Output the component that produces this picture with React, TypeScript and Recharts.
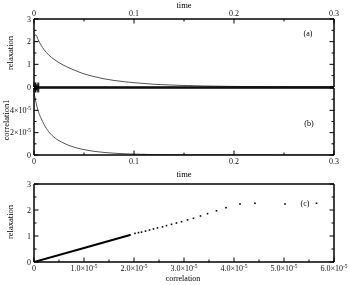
import React from "react"
import { ComposedChart, Line, Scatter, XAxis, YAxis } from "recharts"

// time samples shared by panels (a) and (b)
const time = [0, 0.002, 0.004, 0.007, 0.01, 0.015, 0.02, 0.03, 0.04, 0.05, 0.06, 0.07, 0.08, 0.1, 0.12, 0.14, 0.17, 0.2, 0.25, 0.3]
const relaxation = [2.25, 2.3, 2.1, 1.85, 1.65, 1.4, 1.22, 0.95, 0.75, 0.58, 0.46, 0.36, 0.29, 0.19, 0.12, 0.08, 0.045, 0.025, 0.01, 0.005]
const correlation1 = [5.6e-5, 4.7e-5, 4.0e-5, 3.3e-5, 2.75e-5, 2.05e-5, 1.6e-5, 1.05e-5, 0.7e-5, 0.48e-5, 0.33e-5, 0.23e-5, 0.16e-5, 0.08e-5, 0.04e-5, 0.02e-5, 0.01e-5, 0.005e-5, 0.002e-5, 0.001e-5]

// panel (c): dense part drawn as a line, sparse early-time points as dots
const denseCorr = [0, 1.0e-5, 1.92e-5]
const denseRelax = [0, 0.54, 1.04]
const dotCorr = [1.92e-5, 2.02e-5, 2.09e-5, 2.15e-5, 2.23e-5, 2.31e-5, 2.39e-5, 2.47e-5, 2.57e-5, 2.65e-5, 2.75e-5, 2.85e-5, 2.95e-5, 3.07e-5, 3.19e-5, 3.33e-5, 3.47e-5, 3.65e-5, 3.84e-5, 4.12e-5, 4.42e-5, 5.02e-5, 5.65e-5]
const dotRelax = [1.04, 1.1, 1.13, 1.15, 1.19, 1.23, 1.27, 1.31, 1.35, 1.4, 1.45, 1.5, 1.55, 1.62, 1.68, 1.77, 1.86, 1.97, 2.09, 2.23, 2.26, 2.23, 2.26]

// ticks
const timeTicks = [0, 0.05, 0.1, 0.15, 0.2, 0.25, 0.3]
const timeMajor = [0, 0.1, 0.2, 0.3]
const timeLabels = ["0", "0.1", "0.2", "0.3"]
const relaxTicks = [0, 0.5, 1, 1.5, 2, 2.5, 3]
const relaxMajor = [0, 1, 2, 3]
const relaxLabels = ["0", "1", "2", "3"]
const corrYTicks = [0, 1e-5, 2e-5, 3e-5, 4e-5, 5e-5, 6e-5]
const corrYMajor = [0, 2e-5, 4e-5, 6e-5]
const corrYLabels = ["0", "2×10^-5", "4×10^-5", ""]
const corrXTicks = [0, 0.5e-5, 1e-5, 1.5e-5, 2e-5, 2.5e-5, 3e-5, 3.5e-5, 4e-5, 4.5e-5, 5e-5, 5.5e-5, 6e-5]
const corrXMajor = [0, 1e-5, 2e-5, 3e-5, 4e-5, 5e-5, 6e-5]
const corrXLabels = ["0", "1.0×10^-5", "2.0×10^-5", "3.0×10^-5", "4.0×10^-5", "5.0×10^-5", "6.0×10^-5"]

const W = 349
const H = 285
const FONT = "'Liberation Serif', 'DejaVu Serif', serif"
const frame = { stroke: "#000", strokeWidth: 1.5 }

type Side = "top" | "bottom" | "left" | "right"

function TickText({ x, y, anchor, label }: { x: number; y: number; anchor: "middle" | "end"; label: string }) {
  const [base, exp] = label.split("^")
  return (
    <text x={x} y={y} textAnchor={anchor} fontFamily={FONT} fontSize={8} fill="#111">
      <tspan>{base}</tspan>
      {exp ? <tspan dy={-3.5} fontSize={5.5}>{exp}</tspan> : null}
    </text>
  )
}

function makeTick(side: Side, majors: number[], labels?: string[]) {
  return (props: any) => {
    const { x, y, payload } = props
    const v = payload.value
    const idx = majors.findIndex((m) => Math.abs(m - v) <= Math.abs(m) * 1e-9 + 1e-15)
    const len = idx >= 0 ? 4.5 : 2.5
    let x2 = x
    let y2 = y
    if (side === "top") y2 = y + len
    if (side === "bottom") y2 = y - len
    if (side === "left") x2 = x + len
    if (side === "right") x2 = x - len
    const label = idx >= 0 && labels ? labels[idx] : ""
    let text = null
    if (label) {
      if (side === "top") text = <TickText x={x} y={y - 3} anchor="middle" label={label} />
      else if (side === "bottom") text = <TickText x={x} y={y + 9} anchor="middle" label={label} />
      else text = <TickText x={x - 3} y={y + 2.8} anchor="end" label={label} />
    }
    return (
      <g>
        <line x1={x} y1={y} x2={x2} y2={y2} stroke="#000" strokeWidth={1} />
        {text}
      </g>
    )
  }
}

const axisCommon = {
  type: "number" as const,
  allowDataOverflow: true,
  interval: 0 as const,
  mirror: true,
  tickLine: false,
  tickSize: 0,
  tickMargin: 0,
  axisLine: frame,
}

const dataA = time.map((t, i) => ({ t, v: relaxation[i] }))
const dataB = time.map((t, i) => ({ t, v: correlation1[i] }))
const denseData = denseCorr.map((c, i) => ({ c, r: denseRelax[i] }))
const dotData = dotCorr.map((c, i) => ({ c, r: dotRelax[i] }))

const Dot = (p: any) => <rect x={p.cx - 0.8} y={p.cy - 0.8} width={1.6} height={1.6} fill="#000" />

const abs: React.CSSProperties = { position: "absolute", left: 0, top: 0, willChange: "transform" }

export default function App() {
  return (
    <div style={{ position: "absolute", left: 0, top: 0, width: W, height: H }}>
      {/* (a) relaxation vs time */}
      <div style={abs}>
        <ComposedChart width={W} height={H} data={dataA} accessibilityLayer={false} margin={{ top: 19, right: 15, bottom: 198, left: 34 }}>
          <XAxis {...axisCommon} xAxisId="top" orientation="top" dataKey="t" domain={[0, 0.3]} ticks={timeTicks} tick={makeTick("top", timeMajor, timeLabels)} />
          <XAxis {...axisCommon} xAxisId="bottom" orientation="bottom" domain={[0, 0.3]} ticks={timeTicks} tick={makeTick("bottom", timeMajor)} />
          <YAxis {...axisCommon} yAxisId="left" orientation="left" domain={[0, 3]} ticks={relaxTicks} tick={makeTick("left", relaxMajor, relaxLabels)} />
          <YAxis {...axisCommon} yAxisId="right" orientation="right" domain={[0, 3]} ticks={relaxTicks} tick={makeTick("right", relaxMajor)} />
          <Line xAxisId="top" yAxisId="left" dataKey="v" type="monotone" stroke="#555" strokeWidth={1} dot={false} isAnimationActive={false} />
        </ComposedChart>
      </div>

      {/* (b) correlation1 vs time */}
      <div style={abs}>
        <ComposedChart width={W} height={H} data={dataB} accessibilityLayer={false} margin={{ top: 88, right: 15, bottom: 130, left: 34 }}>
          <XAxis {...axisCommon} xAxisId="bottom" orientation="bottom" dataKey="t" domain={[0, 0.3]} ticks={timeTicks} tick={makeTick("bottom", timeMajor, timeLabels)} />
          <XAxis {...axisCommon} xAxisId="top" orientation="top" domain={[0, 0.3]} ticks={timeTicks} tick={makeTick("top", timeMajor)} />
          <YAxis {...axisCommon} yAxisId="left" orientation="left" domain={[0, 6e-5]} ticks={corrYTicks} tick={makeTick("left", corrYMajor, corrYLabels)} />
          <YAxis {...axisCommon} yAxisId="right" orientation="right" domain={[0, 6e-5]} ticks={corrYTicks} tick={makeTick("right", corrYMajor)} />
          <Line xAxisId="bottom" yAxisId="left" dataKey="v" type="monotone" stroke="#555" strokeWidth={1} dot={false} isAnimationActive={false} />
        </ComposedChart>
      </div>

      {/* (c) relaxation vs correlation */}
      <div style={abs}>
        <ComposedChart width={W} height={H} accessibilityLayer={false} margin={{ top: 184, right: 15, bottom: 23, left: 34 }}>
          <XAxis {...axisCommon} xAxisId="bottom" orientation="bottom" dataKey="c" domain={[0, 6e-5]} ticks={corrXTicks} tick={makeTick("bottom", corrXMajor, corrXLabels)} />
          <XAxis {...axisCommon} xAxisId="top" orientation="top" domain={[0, 6e-5]} ticks={corrXTicks} tick={makeTick("top", corrXMajor)} />
          <YAxis {...axisCommon} yAxisId="left" orientation="left" dataKey="r" domain={[0, 3]} ticks={relaxTicks} tick={makeTick("left", relaxMajor, relaxLabels)} />
          <YAxis {...axisCommon} yAxisId="right" orientation="right" domain={[0, 3]} ticks={relaxTicks} tick={makeTick("right", relaxMajor)} />
          <Line xAxisId="bottom" yAxisId="left" data={denseData} dataKey="r" type="linear" stroke="#000" strokeWidth={2} dot={false} isAnimationActive={false} />
          <Scatter xAxisId="bottom" yAxisId="left" data={dotData} dataKey="r" shape={Dot} isAnimationActive={false} />
        </ComposedChart>
      </div>

      {/* titles and panel letters */}
      <svg width={W} height={H} style={{ ...abs, pointerEvents: "none" }} fontFamily={FONT} fill="#000">
        <text x={184} y={7.5} textAnchor="middle" fontSize={8.5}>time</text>
        <text x={184} y={177} textAnchor="middle" fontSize={8.5}>time</text>
        <text x={183} y={281} textAnchor="middle" fontSize={8}>correlation</text>
        <text transform="translate(13,53) rotate(-90)" textAnchor="middle" fontSize={8.5}>relaxation</text>
        <text transform="translate(8.5,120) rotate(-90)" textAnchor="middle" fontSize={8.5}>correlation1</text>
        <text transform="translate(13,222) rotate(-90)" textAnchor="middle" fontSize={8.5}>relaxation</text>
        <text x={308} y={36} textAnchor="middle" fontSize={8}>(a)</text>
        <text x={309} y={126} textAnchor="middle" fontSize={8}>(b)</text>
        <text x={305} y={206} textAnchor="middle" fontSize={8}>(c)</text>
      </svg>
    </div>
  )
}
